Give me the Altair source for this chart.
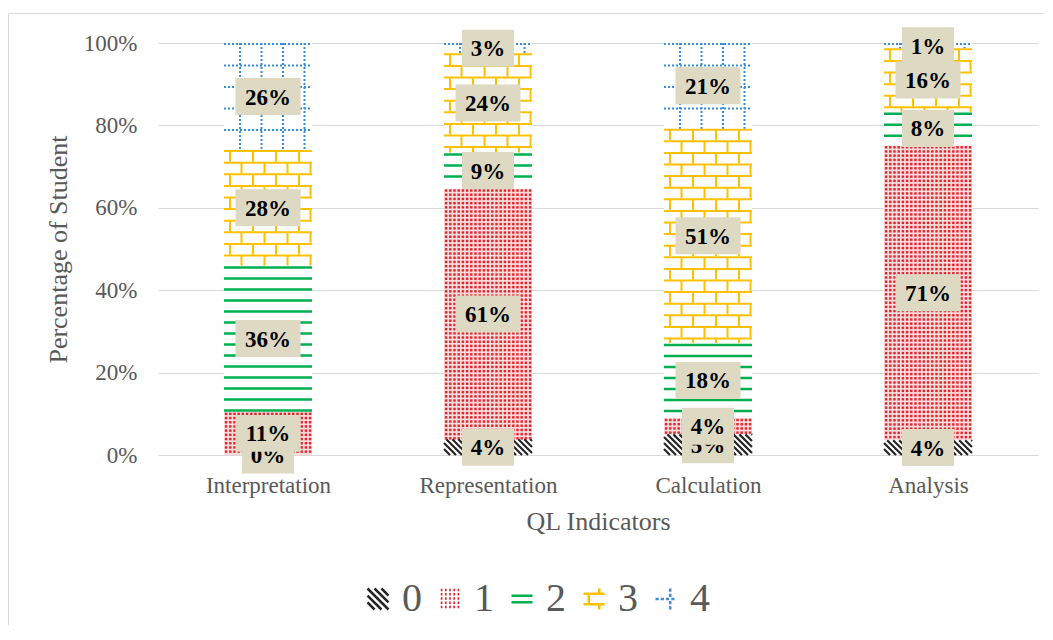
import json
import altair as alt
import pandas as pd

# ---------------- data ----------------
categories = ["Interpretation", "Representation", "Calculation", "Analysis"]
series = ["0", "1", "2", "3", "4"]
# segment heights (% of students) as drawn
s0 = [0.0, 3.8, 5.0, 3.6]
s1 = [10.5, 60.9, 4.0, 71.6]
s2 = [35.5, 8.7, 18.2, 8.1]
s3 = [28.0, 24.1, 52.0, 15.4]
s4 = [26.0, 2.5, 20.8, 1.3]
# printed data labels
l0 = ["0%", "4%", "5%", "4%"]
l1 = ["11%", "61%", "4%", "71%"]
l2 = ["36%", "9%", "18%", "8%"]
l3 = ["28%", "24%", "51%", "16%"]
l4 = ["26%", "3%", "21%", "1%"]
y_ticks = [0, 20, 40, 60, 80, 100]

# ---------------- layout / style ----------------
W, H = 880, 412
BAR_LO, BAR_HI = 0.3, 0.7
PXU = W / len(categories)
PYU = H / 100.0
BW = (BAR_HI - BAR_LO) * PXU
FONT = "Liberation Serif"
GREY = "#595959"
COLORS = {"0": "#262626", "1": "#e0262b", "2": "#00b050", "3": "#ffc000", "4": "#3c8dd8"}
PINK_BG = "#fbdcdc"
BOX = "#ddd9c3"

vals = [s0, s1, s2, s3, s4]
labs = [l0, l1, l2, l3, l4]
rows = []
for ci, c in enumerate(categories):
    cum = 0.0
    for si, s in enumerate(series):
        v = vals[si][ci]
        rows.append(dict(category=c, idx=ci, series=s, lo=cum, hi=cum + v,
                         mid=cum + v / 2, label=labs[si][ci]))
        cum += v
seg = pd.DataFrame(rows)

# ---------------- pattern geometry (derived from segments) ----------------
green, bricks, grid_h, grid_v, dots, diag = [], [], [], [], [], []
for r in rows:
    ci, top, v, s = r["idx"], r["hi"], r["hi"] - r["lo"], r["series"]
    h = v * PYU
    if h <= 0:
        continue
    xl = ci + BAR_LO

    def X(px, xl=xl):
        return xl + px / PXU

    def Y(py, top=top):
        return top - py / PYU

    if s == "2":
        py = 2.0
        while py < h - 1:
            green.append(dict(x0=X(0), x1=X(BW), y0=Y(py), y1=Y(py)))
            py += 11.0
    elif s == "3":
        k = 0
        while k * 11.6 < h - 1:
            pt = k * 11.6
            pb = min(pt + 11.6, h)
            bricks.append(dict(x0=X(0), x1=X(BW), y0=Y(pt + 1), y1=Y(pt + 1)))
            px = 6.0 if k % 2 == 0 else 17.5
            while px < BW - 1:
                bricks.append(dict(x0=X(px), x1=X(px), y0=Y(pt + 1), y1=Y(pb)))
                px += 23.0
            k += 1
    elif s == "4":
        py = 1.0
        while py < h - 0.5:
            grid_h.append(dict(x0=X(0), x1=X(BW), y0=Y(py), y1=Y(py)))
            py += 21.5
        for px in [16.0, 37.5, 59.0, 80.5]:
            grid_v.append(dict(x0=X(px), x1=X(px), y0=Y(0), y1=Y(h)))
    elif s == "1":
        py = 2.1
        while py < h:
            px = 2.1
            while px < BW:
                dots.append(dict(xc=X(px), yc=Y(py)))
                px += 4.2
            py += 4.2
    elif s == "0":
        c = -h
        while c < BW:
            xs, xe = max(0.0, c), min(BW, h + c)
            if xe - xs > 0.5:
                diag.append(dict(x0=X(xs), x1=X(xe), y0=Y(xs - c), y1=Y(xe - c)))
            c += 6.0

# ---------------- scales & axes ----------------
X_SCALE = alt.Scale(domain=[0, len(categories)], nice=False, zero=False)
Y_SCALE = alt.Scale(domain=[0, 100], nice=False)
X_AXIS = alt.Axis(
    values=[i + 0.5 for i in range(len(categories))],
    labelExpr=json.dumps(categories) + "[round(datum.value - 0.5)]",
    title="QL Indicators", grid=False, domain=False, ticks=False, labelAngle=0,
    labelFont=FONT, labelFontSize=23, labelColor=GREY, labelPadding=19,
    titleFont=FONT, titleFontSize=26, titleFontWeight="normal", titleColor=GREY, titlePadding=11,
)
Y_AXIS = alt.Axis(
    values=y_ticks, labelExpr="datum.value + '%'", title="Percentage of Student",
    grid=True, gridColor="#d9d9d9", gridWidth=1, domain=False, ticks=False,
    labelFont=FONT, labelFontSize=23, labelColor=GREY, labelPadding=21,
    titleFont=FONT, titleFontSize=26, titleFontWeight="normal", titleColor=GREY, titlePadding=12,
)


def rule_layer(records, color, width, dash=None):
    kw = dict(color=color, strokeWidth=width)
    if dash:
        kw["strokeDash"] = dash
    return alt.Chart(pd.DataFrame(records)).mark_rule(**kw).encode(
        x=alt.X("x0:Q", scale=X_SCALE, axis=X_AXIS), x2="x1:Q",
        y=alt.Y("y0:Q", scale=Y_SCALE, axis=Y_AXIS), y2="y1:Q",
    )


frame = alt.Chart(pd.DataFrame({"f": [0]})).mark_rect(
    fillOpacity=0, stroke="#d9d9d9", strokeWidth=1
).encode(x=alt.value(-149.5), x2=alt.value(W + 40), y=alt.value(-29.5), y2=alt.value(H + 300))

bars = alt.Chart(seg).transform_calculate(
    bx0=f"datum.idx + {BAR_LO}", bx1=f"datum.idx + {BAR_HI}"
).mark_rect().encode(
    x=alt.X("bx0:Q", scale=X_SCALE, axis=X_AXIS), x2="bx1:Q",
    y=alt.Y("lo:Q", scale=Y_SCALE, axis=Y_AXIS), y2="hi:Q",
    fill=alt.condition("datum.series == '1'", alt.value(PINK_BG), alt.value("#ffffff")),
)

dot_layer = alt.Chart(pd.DataFrame(dots)).mark_square(size=6, color=COLORS["1"], opacity=1).encode(
    x=alt.X("xc:Q", scale=X_SCALE, axis=X_AXIS),
    y=alt.Y("yc:Q", scale=Y_SCALE, axis=Y_AXIS),
)

layers = [
    frame,
    bars,
    dot_layer,
    rule_layer(diag, COLORS["0"], 2.2),
    rule_layer(green, COLORS["2"], 2.5),
    rule_layer(bricks, COLORS["3"], 2.0),
    rule_layer(grid_h, COLORS["4"], 2.0, [2, 2]),
    rule_layer(grid_v, COLORS["4"], 2.0, [2, 2]),
]

BOX_WIDE = "M-1,-0.569L1,-0.569L1,0.569L-1,0.569Z"
BOX_NARROW = "M-1,-0.712L1,-0.712L1,0.712L-1,0.712Z"
for s in series:
    sub = seg[seg.series == s]
    base = alt.Chart(sub).transform_calculate(xc="datum.idx + 0.5")
    layers.append(
        base.mark_point(filled=True, opacity=1, fill=BOX, strokeWidth=0).encode(
            x=alt.X("xc:Q", scale=X_SCALE, axis=X_AXIS),
            y=alt.Y("mid:Q", scale=Y_SCALE, axis=Y_AXIS),
            shape=alt.condition("length(datum.label) > 2", alt.value(BOX_WIDE), alt.value(BOX_NARROW)),
            size=alt.condition("length(datum.label) > 2", alt.value(65 * 65), alt.value(52 * 52)),
        )
    )
    layers.append(
        base.mark_text(font=FONT, fontSize=23, fontWeight="bold", color="black",
                       align="center", baseline="middle", dy=1).encode(
            x=alt.X("xc:Q", scale=X_SCALE, axis=X_AXIS),
            y=alt.Y("mid:Q", scale=Y_SCALE, axis=Y_AXIS),
            text="label:N",
        )
    )


# legend source (points placed off-canvas, only the legend is visible)
def dots_path():
    parts = []
    for a in [-0.8, -0.4, 0.0, 0.4, 0.8]:
        for b in [-0.85, -0.45, -0.05, 0.35, 0.75]:
            parts.append(f"M{a - 0.08:.2f},{b:.2f}h0.16")
    return "".join(parts)


legend_paths = [
    "M-1,-1L1,1M-1,-0.33L0.33,1M-1,0.33L-0.33,1M-0.33,-1L1,0.33M0.33,-1L1,-0.33",
    dots_path(),
    "M-1,-0.3L1,-0.3M-1,0.3L1,0.3",
    "M-1,-0.5L1,-0.5M-1,0.5L1,0.5M-0.5,-0.5L-0.5,0.5M0.5,-1L0.5,-0.5M0.5,0.5L0.5,1",
    "M-1,0h0.3M-0.5,0h0.3M0,0h0.3M0.5,0h0.3M0.4,-1v0.3M0.4,-0.5v0.3M0.4,0.2v0.3M0.4,0.7v0.3",
]
LEG = alt.Legend(
    title=None, orient="none", legendX=200, legendY=536, direction="horizontal",
    symbolSize=441, symbolStrokeWidth=2.5, labelFont=FONT, labelFontSize=40,
    labelColor=GREY, labelOffset=4, columnPadding=8, padding=0,
)
legend_src = alt.Chart(pd.DataFrame({"series": series})).mark_point(
    filled=False, opacity=1, strokeWidth=2.5
).encode(
    x=alt.value(-600), y=alt.value(-600),
    color=alt.Color("series:N", scale=alt.Scale(domain=series, range=[COLORS[s] for s in series]), legend=LEG),
    shape=alt.Shape("series:N", scale=alt.Scale(domain=series, range=legend_paths), legend=LEG),
)
layers.append(legend_src)

chart = alt.layer(*layers).properties(
    width=W, height=H,
    autosize=alt.AutoSizeParams(type="none"),
    padding={"left": 150, "top": 35, "right": 5, "bottom": 170},
    background="white",
).configure_view(stroke="transparent")

chart.save("out.html", embed_options={"renderer": "svg", "actions": False})
